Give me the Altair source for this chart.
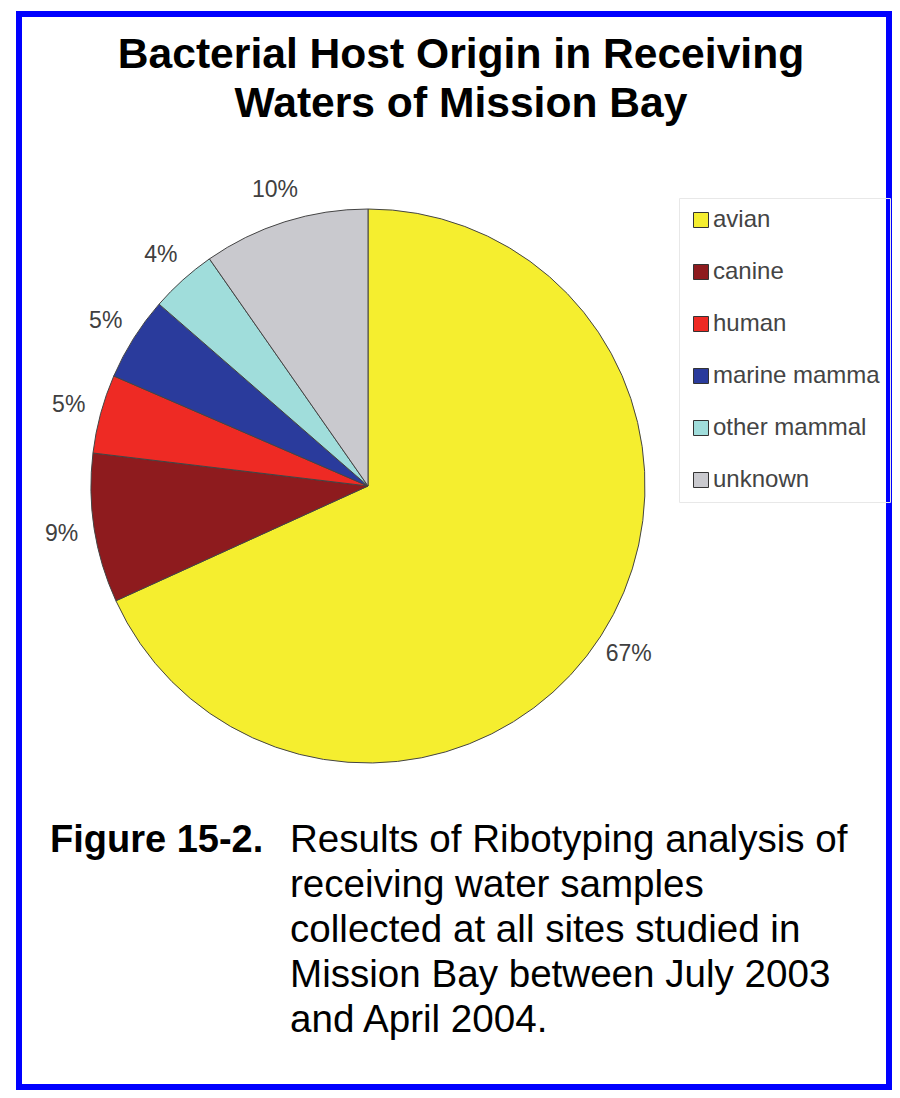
import altair as alt
import pandas as pd

# Data
categories = ["avian", "canine", "human", "marine mammal", "other mammal", "unknown"]
shares = [68.2, 8.7, 4.6, 4.9, 3.9, 9.7]
pct_labels = ["67%", "9%", "5%", "5%", "4%", "10%"]
colors = ["#F5EE2F", "#8E1B1E", "#EE2A24", "#2A3B9C", "#A0DDDB", "#C9C9CE"]

title_lines = ["Bacterial Host Origin in Receiving", "Waters of Mission Bay"]
fig_label = ["Figure 15-2."]
caption_lines = [
    "Results of Ribotyping analysis of",
    "receiving water samples",
    "collected at all sites studied in",
    "Mission Bay between July 2003",
    "and April 2004.",
]

FONT = "Liberation Sans"

df = pd.DataFrame({
    "category": categories,
    "share": shares,
    "label": pct_labels,
    "idx": list(range(len(categories))),
})

cx, cy = 349, 472

base = alt.Chart(df).encode(
    theta=alt.Theta("share:Q", stack=True),
    order=alt.Order("idx:Q"),
    x=alt.value(cx),
    y=alt.value(cy),
)

pie = base.mark_arc(radius=277, stroke="#444444", strokeWidth=1).encode(
    color=alt.Color(
        "category:N",
        scale=alt.Scale(domain=categories, range=colors),
        sort=categories,
        legend=alt.Legend(
            title=None,
            orient="none",
            legendX=660,
            legendY=184,
            padding=10,
            strokeColor="#e8e8e8",
            symbolType="square",
            symbolSize=225,
            symbolStrokeColor="#333333",
            symbolStrokeWidth=1,
            symbolOpacity=1,
            labelFont=FONT,
            labelFontSize=24,
            labelColor="#444444",
            labelLimit=300,
            labelOffset=0,
            rowPadding=28,
            labelExpr="substring(datum.label, 0, 12)",
        ),
    )
)

labels = base.mark_text(
    radius=310, font=FONT, fontSize=23, color="#404040",
    align="center", baseline="middle",
).encode(text="label:N")

title_df = pd.DataFrame({"k": [0]})
title = alt.Chart(title_df).mark_text(
    font=FONT, fontSize=42.6, fontWeight="bold", color="#000000",
    align="center", baseline="alphabetic", lineHeight=49,
).encode(x=alt.value(442), y=alt.value(54), text=alt.value(title_lines))

fig = alt.Chart(title_df).mark_text(
    font=FONT, fontSize=38, fontWeight="bold", color="#000000",
    align="left", baseline="alphabetic",
).encode(x=alt.value(31), y=alt.value(838), text=alt.value(fig_label[0]))

caption = alt.Chart(title_df).mark_text(
    font=FONT, fontSize=38.6, color="#000000",
    align="left", baseline="alphabetic", lineHeight=45,
).encode(x=alt.value(271), y=alt.value(838), text=alt.value(caption_lines))

chart = alt.layer(pie, labels, title, fig, caption).properties(
    width=870,
    height=1073,
    padding={"left": 11, "top": 6, "right": 3, "bottom": 3},
    autosize=alt.AutoSizeParams(type="none"),
    background="#ffffff",
).configure_view(stroke="#0000FF", strokeWidth=6)

chart.save("out.html", embed_options={"renderer": "svg", "actions": False})
